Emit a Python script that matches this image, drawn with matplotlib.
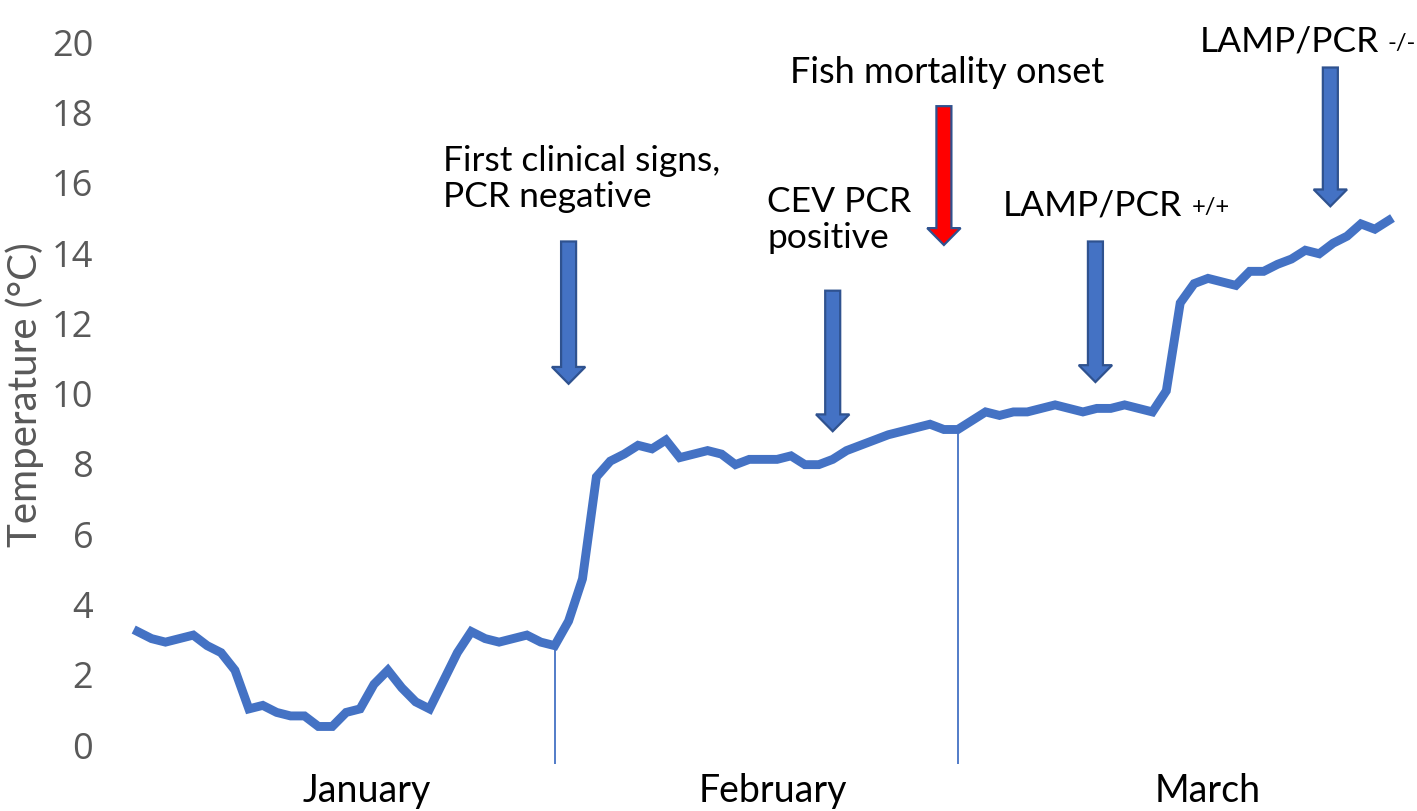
import matplotlib
matplotlib.use("Agg")
import matplotlib.pyplot as plt
from matplotlib.patches import Polygon
import numpy as np

plt.rcParams['font.family'] = ['Lato', 'DejaVu Sans']

# daily water temperature
jan = [3.2, 3.0, 2.9, 3.0, 3.1, 2.8, 2.6, 2.1, 1.0, 1.1, 0.9, 0.8, 0.8, 0.5, 0.5,
       0.9, 1.0, 1.7, 2.1, 1.6, 1.2, 1.0, 1.8, 2.6, 3.2, 3.0, 2.9, 3.0, 3.1, 2.9, 2.8]
feb = [3.5, 4.7, 7.6, 8.05, 8.25, 8.5, 8.4, 8.65, 8.15, 8.25, 8.35, 8.25, 7.95, 8.1, 8.1,
       8.1, 8.2, 7.95, 7.95, 8.1, 8.35, 8.5, 8.65, 8.8, 8.9, 9.0, 9.1, 8.95, 8.95]
mar = [9.2, 9.45, 9.35, 9.45, 9.45, 9.55, 9.65, 9.55, 9.45, 9.55, 9.55, 9.65, 9.55, 9.45, 10.05,
       12.55, 13.1, 13.25, 13.15, 13.05, 13.45, 13.45, 13.65, 13.8, 14.05, 13.95, 14.25, 14.45,
       14.8, 14.65, 14.9]
temps = jan + feb + mar
days = np.arange(len(temps))

months = ['January', 'February', 'March']
month_pos = [16.5, 45.7, 77.0]
month_ends = [len(jan) - 1, len(jan) + len(feb) - 1]

# events: (x day index, arrow top, arrow tip, fill colour)
arrow_x = [31.0, 50.0, 58.0, 68.9, 85.8]
arrow_top = [14.3, 12.9, 18.15, 14.3, 19.25]
arrow_tip = [10.25, 8.9, 14.2, 10.3, 15.3]
arrow_fill = ['#4472C4', '#4472C4', '#FF0000', '#4472C4', '#4472C4']

blue = '#4472C4'
edge = '#2F528F'
grey = '#595959'

fig = plt.figure(figsize=(14.17, 8.12), dpi=100)
ax = fig.add_axes([110 / 1417, 1 - 770 / 812, 1300 / 1417, 750 / 812])

ax.plot(days, temps, color=blue, lw=6.4, solid_joinstyle='miter', zorder=3)

# month dividers
for d in month_ends:
    ax.vlines(d, -0.57, temps[d], color=blue, lw=1.3, zorder=2)

# block arrows
shaft_w, head_w, head_len = 1.08, 2.4, 0.48
for x, top, tip, fc in zip(arrow_x, arrow_top, arrow_tip, arrow_fill):
    neck = tip + head_len
    pts = [(x - shaft_w / 2, top), (x + shaft_w / 2, top), (x + shaft_w / 2, neck),
           (x + head_w / 2, neck), (x, tip), (x - head_w / 2, neck), (x - shaft_w / 2, neck)]
    ax.add_patch(Polygon(pts, closed=True, facecolor=fc, edgecolor=edge, lw=1.6,
                         joinstyle='miter', zorder=4))

fs = 25.5
ax.text(22.0, 16.1, 'First clinical signs,\nPCR negative', fontsize=fs, ha='left',
        va='center', linespacing=1.15)
ax.text(45.3, 14.95, 'CEV PCR\npositive', fontsize=fs, ha='left', va='center',
        linespacing=1.15)
ax.text(46.9, 19.15, 'Fish mortality onset', fontsize=26, ha='left', va='center')

t1 = ax.text(62.2, 15.08, 'LAMP/PCR', fontsize=fs, ha='left', va='baseline')
ax.annotate('+/+', xy=(1, 0), xycoords=t1, xytext=(7, 2), textcoords='offset points',
            fontsize=17, ha='left', va='bottom')
t2 = ax.text(76.4, 19.72, 'LAMP/PCR', fontsize=fs, ha='left', va='baseline')
ax.annotate('-/-', xy=(1, 0), xycoords=t2, xytext=(6, 3), textcoords='offset points',
            fontsize=17, ha='left', va='bottom')

ax.set_xlim(-1.99, 91.53)
ax.set_ylim(-0.71, 20.63)
ax.set_yticks(range(0, 21, 2))
ax.tick_params(axis='y', length=0, pad=12, labelsize=26, labelcolor=grey)
for lb in ax.get_yticklabels():
    lb.set_fontfamily(['Open Sans', 'DejaVu Sans'])
ax.set_xticks(month_pos)
ax.set_xticklabels(months)
ax.tick_params(axis='x', length=0, pad=2, labelsize=27, labelcolor='black')
ax.set_ylabel('Temperature (°C)', fontsize=29, color=grey, labelpad=6)
for s in ax.spines.values():
    s.set_visible(False)

fig.savefig('out.png', dpi=100)
